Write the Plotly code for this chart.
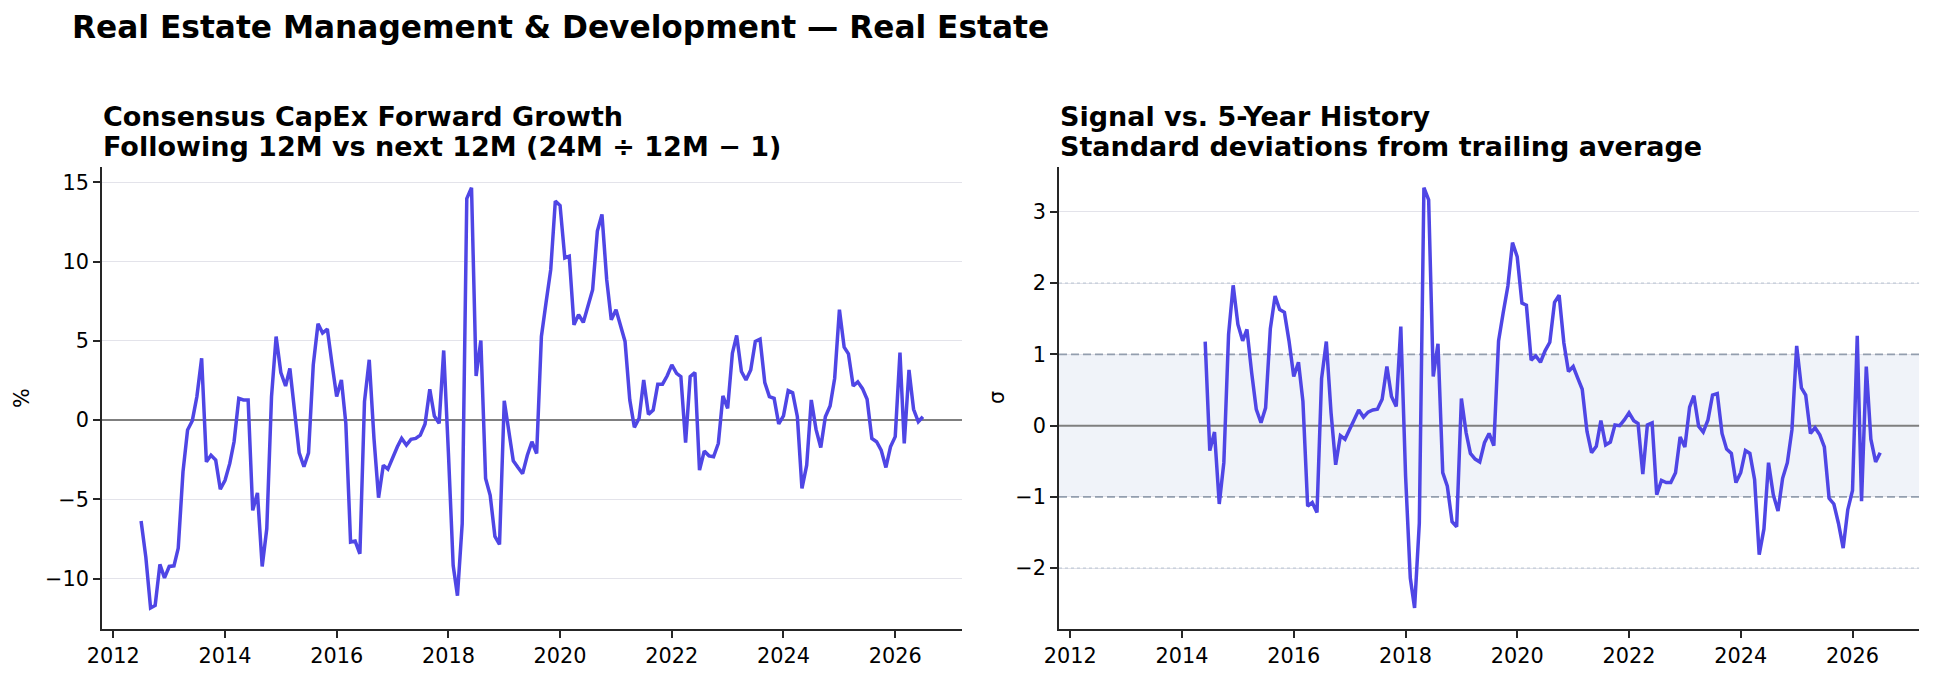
import pandas as pd
import plotly.graph_objects as go

# ---------------- data ----------------
start_month = "2012-07-01"
growth_pct = [
    -6.37, -8.65, -11.86, -11.7, -9.11, -9.96, -9.24, -9.2, -8.08, -3.27,
    -0.63, -0.04, 1.48, 3.9, -2.64, -2.22, -2.53, -4.37, -3.8, -2.74,
    -1.37, 1.37, 1.27, 1.27, -5.7, -4.6, -9.24, -6.86, 1.48, 5.27,
    3.0, 2.15, 3.25, 0.32, -2.07, -2.95, -2.07, 3.48, 6.08, 5.49,
    5.74, 3.59, 1.48, 2.53, -0.21, -7.7, -7.64, -8.44, 1.16, 3.8,
    -1.16, -4.9, -2.85, -3.1, -2.36, -1.69, -1.16, -1.58, -1.22, -1.16,
    -0.95, -0.25, 1.94, 0.25, -0.21, 4.39, -2.11, -9.18, -11.08, -6.54,
    13.97, 14.66, 2.78, 5.02, -3.69, -4.75, -7.34, -7.85, 1.22, -0.95,
    -2.57, -3.0, -3.38, -2.22, -1.37, -2.11, 5.27, 7.38, 9.49, 13.82,
    13.54, 10.23, 10.34, 6.01, 6.65, 6.16, 7.17, 8.23, 11.92, 12.97,
    8.86, 6.33, 6.96, 5.8, 4.96, 1.27, -0.46, 0.11, 2.53, 0.36,
    0.63, 2.26, 2.26, 2.78, 3.48, 2.95, 2.74, -1.43, 2.74, 3.0,
    -3.16, -1.96, -2.26, -2.32, -1.48, 1.52, 0.74, 4.22, 5.34, 3.06,
    2.53, 3.16, 4.96, 5.1, 2.36, 1.48, 1.37, -0.25, 0.27, 1.86,
    1.73, 0.21, -4.32, -2.85, 1.27, -0.59, -1.73, 0.21, 0.89, 2.64,
    6.96, 4.6, 4.18, 2.15, 2.41, 1.98, 1.31, -1.16, -1.37, -1.9,
    -2.99, -1.69, -1.05, 4.26, -1.48, 3.16, 0.68, -0.11, 0.21,
]
zscore_offset = 23  # first month with a 5-year z-score
zscore_sigma = [
    1.18, -0.35, -0.09, -1.10, -0.52, 1.28, 1.97, 1.42, 1.19, 1.35,
    0.74, 0.23, 0.04, 0.25, 1.36, 1.82, 1.63, 1.59, 1.19, 0.69,
    0.89, 0.34, -1.13, -1.08, -1.22, 0.66, 1.18, 0.18, -0.55, -0.14,
    -0.19, -0.05, 0.09, 0.22, 0.12, 0.19, 0.22, 0.23, 0.37, 0.83,
    0.41, 0.27, 1.39, -0.7, -2.14, -2.56, -1.37, 3.34, 3.17, 0.69,
    1.15, -0.66, -0.85, -1.35, -1.42, 0.38, -0.10, -0.39, -0.47, -0.51,
    -0.24, -0.11, -0.28, 1.19, 1.58, 1.96, 2.57, 2.37, 1.72, 1.69,
    0.92, 0.98, 0.89, 1.05, 1.17, 1.73, 1.83, 1.16, 0.76, 0.83,
    0.66, 0.51, -0.08, -0.38, -0.29, 0.07, -0.27, -0.23, 0.01, 0.0,
    0.08, 0.18, 0.07, 0.03, -0.68, 0.01, 0.04, -0.97, -0.77, -0.8,
    -0.8, -0.66, -0.16, -0.30, 0.26, 0.42, -0.01, -0.09, 0.08, 0.43,
    0.45, -0.11, -0.33, -0.39, -0.8, -0.66, -0.35, -0.39, -0.76, -1.81,
    -1.45, -0.52, -0.97, -1.2, -0.74, -0.52, -0.06, 1.12, 0.53, 0.43,
    -0.11, -0.03, -0.13, -0.3, -1.02, -1.10, -1.37, -1.72, -1.18, -0.91,
    1.26, -1.06, 0.83, -0.19, -0.51, -0.38,
]
year_ticks = [2012, 2014, 2016, 2018, 2020, 2022, 2024, 2026]
left_yticks = [-10, -5, 0, 5, 10, 15]
left_yticklabels = ["\u221210", "\u22125", "0", "5", "10", "15"]
right_yticks = [-2, -1, 0, 1, 2, 3]
right_yticklabels = ["\u22122", "\u22121", "0", "1", "2", "3"]
band_sigma = [-1, 1]
outer_sigma = [-2, 2]

suptitle = "Real Estate Management & Development \u2014 Real Estate"
left_title = ["Consensus CapEx Forward Growth",
              "Following 12M vs next 12M (24M \u00f7 12M \u2212 1)"]
right_title = ["Signal vs. 5-Year History",
               "Standard deviations from trailing average"]

# ---------------- derived ----------------
dates = pd.date_range(start_month, periods=len(growth_pct), freq="MS")
z_dates = dates[zscore_offset:zscore_offset + len(zscore_sigma)]

span = dates[-1] - dates[0]
x_range = [dates[0] - span * 0.05, dates[-1] + span * 0.05]


def pad_range(vals):
    lo, hi = min(vals), max(vals)
    p = (hi - lo) * 0.05
    return [lo - p, hi + p]


W, H = 1934, 679
FONT = "DejaVu Sans"
LINE_COLOR = "#4f46e5"
AX_COLOR = "#262626"


def px_x(p):
    return p / W


def px_y(p):
    return 1 - p / H


ax_top, ax_bot = 166.7, 629
dom_y = [px_y(ax_bot), px_y(ax_top)]
dom_x1 = [px_x(102), px_x(962)]
dom_x2 = [px_x(1059), px_x(1919.3)]

fig = go.Figure()


def hline(y, xa, ya, color, width, dash):
    fig.add_trace(go.Scatter(x=x_range, y=[y, y], mode="lines",
                             line=dict(color=color, width=width, dash=dash),
                             xaxis=xa, yaxis=ya, showlegend=False, hoverinfo="skip"))


# reference lines (under the data)
hline(0, "x", "y", "#7f7f7f", 2, "solid")
for v in outer_sigma:
    hline(v, "x2", "y2", "#c2cbd8", 1.2, "dot")
for v in band_sigma:
    hline(v, "x2", "y2", "#939eae", 1.6, "8px,4px")
hline(0, "x2", "y2", "#7f7f7f", 2, "solid")

fig.add_trace(go.Scatter(x=dates, y=growth_pct, mode="lines",
                         line=dict(color=LINE_COLOR, width=3.5),
                         xaxis="x", yaxis="y", showlegend=False))
fig.add_trace(go.Scatter(x=z_dates, y=zscore_sigma, mode="lines",
                         line=dict(color=LINE_COLOR, width=3.5),
                         xaxis="x2", yaxis="y2", showlegend=False))

xcommon = dict(
    type="date", range=x_range,
    tickmode="array",
    tickvals=[f"{y}-01-01" for y in year_ticks],
    ticktext=[str(y) for y in year_ticks],
    showgrid=False, zeroline=False, automargin=False,
    showline=True, linecolor=AX_COLOR, linewidth=1.7,
    ticks="outside", ticklen=7, tickwidth=1.7, tickcolor=AX_COLOR,
    tickfont=dict(family=FONT, size=20.8, color="#000000"),
)
ycommon = dict(
    showgrid=True, gridcolor="#e3e3ea", gridwidth=1,
    zeroline=False, automargin=False,
    showline=True, linecolor=AX_COLOR, linewidth=1.7,
    ticks="outside", ticklen=7, tickwidth=1.7, tickcolor=AX_COLOR,
    tickfont=dict(family=FONT, size=20.8, color="#000000"),
    tickmode="array",
)

fig.update_layout(
    template="none",
    width=W, height=H,
    margin=dict(l=0, r=0, t=0, b=0, pad=0),
    paper_bgcolor="white", plot_bgcolor="white",
    font=dict(family=FONT, color="#000000"),
    xaxis=dict(xcommon, domain=dom_x1, anchor="y"),
    yaxis=dict(ycommon, domain=dom_y, anchor="x", range=pad_range(growth_pct),
               tickvals=left_yticks, ticktext=left_yticklabels),
    xaxis2=dict(xcommon, domain=dom_x2, anchor="y2"),
    yaxis2=dict(ycommon, domain=dom_y, anchor="x2", range=pad_range(zscore_sigma),
                tickvals=right_yticks, ticktext=right_yticklabels),
)

fig.update_layout(shapes=[
    dict(type="rect", xref="x2", x0=x_range[0], x1=x_range[1], yref="y2",
         y0=band_sigma[0], y1=band_sigma[1],
         fillcolor="#f0f3f9", line=dict(width=0), layer="below"),
])

ann = []
ann.append(dict(text=f"<b>{suptitle}</b>", x=px_x(70), y=px_y(27.5), xref="paper", yref="paper",
                xanchor="left", yanchor="middle", showarrow=False,
                font=dict(family=FONT, size=31.25, color="#000000")))
for xp, lines in ((102, left_title), (1059, right_title)):
    for line, base in zip(lines, (126, 156)):
        ann.append(dict(text=f"<b>{line}</b>", x=px_x(xp - 1), y=px_y(base - 0.35 * 27),
                        xref="paper", yref="paper", xanchor="left", yanchor="middle",
                        showarrow=False, font=dict(family=FONT, size=27, color="#000000")))
ann.append(dict(text="%", x=px_x(22), y=px_y(398), xref="paper", yref="paper",
                xanchor="center", yanchor="middle", textangle=-90, showarrow=False,
                font=dict(family=FONT, size=20.8, color="#000000")))
ann.append(dict(text="\u03c3", x=px_x(997), y=px_y(398), xref="paper", yref="paper",
                xanchor="center", yanchor="middle", textangle=-90, showarrow=False,
                font=dict(family=FONT, size=20.8, color="#000000")))
fig.update_layout(annotations=ann)

fig.write_html("out.html")
